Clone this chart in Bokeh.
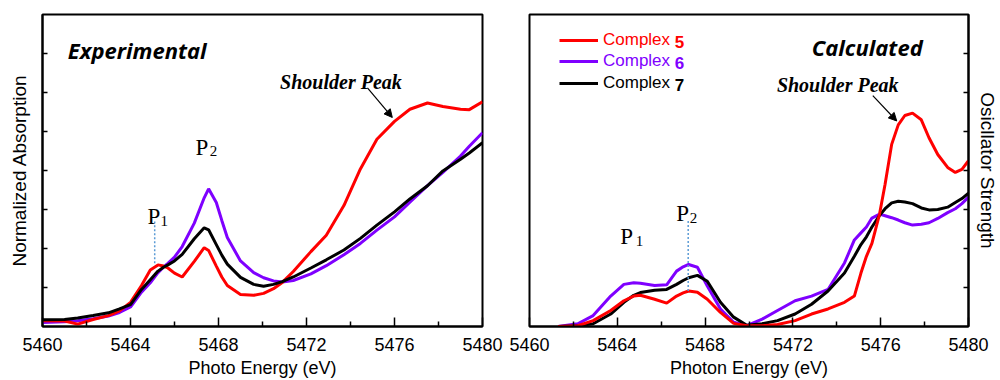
from bokeh.plotting import figure
from bokeh.models import (Range1d, FixedTicker, Label, Arrow, NormalHead,
                          Legend, LegendItem)
from bokeh.layouts import row
from bokeh.embed import file_html
from bokeh.resources import INLINE

# ---------------- data ----------------
x_major_ticks = [5460, 5464, 5468, 5472, 5476, 5480]
x_minor_ticks = [5462, 5466, 5470, 5474, 5478]
y_ticks = [1, 2, 3, 4, 5, 6, 7]

# Experimental (left panel)
exp_energy = [5460.0, 5461.0, 5461.6, 5462.3, 5463.0, 5463.5, 5464.0, 5464.5, 5464.9,
              5465.25, 5465.5, 5465.7, 5466.0, 5466.35, 5466.9, 5467.35, 5467.55, 5467.9,
              5468.15, 5468.4, 5469.0, 5469.6, 5470.05, 5470.5, 5470.9, 5471.4, 5472.2,
              5472.9, 5473.7, 5474.45, 5475.2, 5476.0, 5476.7, 5477.5, 5478.2, 5479.0,
              5479.4, 5480.0]
exp_complex5 = [0.15, 0.14, 0.06, 0.18, 0.28, 0.40, 0.62, 1.05, 1.45,
                1.58, 1.55, 1.50, 1.37, 1.27, 1.67, 2.02, 1.95, 1.55,
                1.27, 1.05, 0.82, 0.80, 0.85, 0.97, 1.13, 1.41, 1.92,
                2.34, 3.10, 4.04, 4.80, 5.26, 5.57, 5.73, 5.64, 5.57,
                5.56, 5.76]
exp_complex6 = [0.10, 0.12, 0.15, 0.20, 0.27, 0.36, 0.50, 0.88, 1.12,
                1.38, 1.52, 1.62, 1.78, 2.05, 2.65, 3.30, 3.53, 3.18,
                2.72, 2.28, 1.68, 1.38, 1.25, 1.17, 1.14, 1.18, 1.35,
                1.56, 1.84, 2.13, 2.47, 2.81, 3.19, 3.61, 3.95, 4.37,
                4.62, 4.97]
exp_complex7 = [0.17, 0.18, 0.22, 0.28, 0.35, 0.45, 0.56, 0.95, 1.20,
                1.42, 1.52, 1.58, 1.68, 1.85, 2.25, 2.53, 2.48, 2.10,
                1.83, 1.60, 1.26, 1.08, 1.03, 1.08, 1.15, 1.27, 1.50,
                1.71, 1.96, 2.26, 2.60, 2.94, 3.27, 3.61, 3.99, 4.29,
                4.45, 4.71]

# Calculated (right panel)
calc_energy = [5461.3, 5462.2, 5462.9, 5463.7, 5464.3, 5464.75, 5465.05, 5465.7, 5466.25,
               5466.7, 5467.0, 5467.25, 5467.65, 5468.1, 5468.7, 5469.3, 5469.9, 5470.6,
               5471.3, 5472.1, 5472.85, 5473.6, 5474.35, 5474.8, 5475.1, 5475.35, 5475.6,
               5475.95, 5476.2, 5476.5, 5476.8, 5477.1, 5477.45, 5477.85, 5478.2, 5478.6,
               5479.05, 5479.4, 5479.7, 5480.0]
calc_complex5 = [0.0, 0.02, 0.15, 0.41, 0.66, 0.78, 0.80, 0.70, 0.60,
                 0.78, 0.86, 0.91, 0.88, 0.70, 0.36, 0.08, 0.02, 0.02,
                 0.05, 0.15, 0.32, 0.45, 0.62, 0.78, 1.37, 1.80, 2.13,
                 2.89, 3.65, 4.67, 5.17, 5.41, 5.47, 5.30, 4.84, 4.41,
                 4.08, 3.95, 4.03, 4.25]
calc_complex6 = [0.0, 0.07, 0.28, 0.78, 1.08, 1.12, 1.11, 1.05, 1.07,
                 1.42, 1.53, 1.59, 1.52, 1.04, 0.45, 0.11, 0.02, 0.19,
                 0.41, 0.66, 0.78, 0.95, 1.63, 2.22, 2.40, 2.55, 2.78,
                 2.88, 2.84, 2.79, 2.73, 2.66, 2.60, 2.62, 2.66, 2.77,
                 2.92, 3.02, 3.15, 3.32]
calc_complex7 = [0.0, 0.02, 0.07, 0.32, 0.62, 0.80, 0.87, 0.93, 0.95,
                 1.08, 1.18, 1.25, 1.31, 1.16, 0.62, 0.24, 0.03, 0.07,
                 0.15, 0.32, 0.57, 0.91, 1.37, 1.80, 2.10, 2.30, 2.55,
                 2.85, 3.02, 3.17, 3.21, 3.19, 3.15, 3.04, 2.99, 3.00,
                 3.06, 3.18, 3.28, 3.42]

series_names = ["Complex", "Complex", "Complex"]
series_numbers = ["5", "6", "7"]
series_colors = ["#ff0000", "#7f00ff", "#000000"]

# annotation anchors (data units)
exp_p1_marker = dict(x=5465.1, y0=1.62, y1=2.69)
calc_p2_marker = dict(x=5467.23, y0=0.91, y1=2.73)

SANS = "Liberation Sans"
SERIF = "Liberation Serif"
TITLE_FONT = "Open Sans"


def make_fig(width, bl, br, yloc, xlabel, ylabel):
    p = figure(width=width, height=380, x_range=Range1d(5460, 5480), y_range=Range1d(0, 8),
               output_backend="svg", toolbar_location=None, y_axis_location=yloc,
               min_border_left=bl, min_border_right=br, min_border_top=14, min_border_bottom=50)
    p.background_fill_color = "white"
    p.border_fill_color = "white"
    p.grid.visible = False
    p.outline_line_color = "black"
    p.outline_line_width = 2
    p.outline_line_alpha = 1

    xa = p.xaxis[0]
    xa.ticker = FixedTicker(ticks=x_major_ticks, minor_ticks=x_minor_ticks)
    xa.major_tick_in = 9
    xa.major_tick_out = 0
    xa.minor_tick_in = 5
    xa.minor_tick_out = 0
    xa.major_tick_line_width = 1.5
    xa.minor_tick_line_width = 1.5
    xa.axis_line_width = 2
    xa.major_label_text_font = SANS
    xa.major_label_text_font_size = "18px"
    xa.major_label_text_color = "black"
    xa.major_label_standoff = 11
    xa.axis_label = xlabel
    xa.axis_label_text_font = SANS
    xa.axis_label_text_font_size = "18px"
    xa.axis_label_text_font_style = "normal"
    xa.axis_label_text_color = "black"
    xa.axis_label_standoff = 4

    ya = p.yaxis[0]
    ya.ticker = FixedTicker(ticks=y_ticks)
    ya.major_tick_in = 5
    ya.major_tick_out = 0
    ya.minor_tick_line_color = None
    ya.major_tick_line_width = 1.5
    ya.axis_line_width = 2
    ya.major_label_overrides = {t: "" for t in y_ticks}
    ya.major_label_standoff = 0
    ya.axis_label = ylabel
    ya.axis_label_text_font = SANS
    ya.axis_label_text_font_size = "19px"
    ya.axis_label_text_font_style = "normal"
    ya.axis_label_text_color = "black"
    return p


def add_text(p, x, y, text, font, size, style="normal", color="black"):
    p.add_layout(Label(x=x, y=y, text=text, text_font=font, text_font_size=size,
                       text_font_style=style, text_color=color,
                       text_align="left", text_baseline="alphabetic"))


# ---------------- left panel ----------------
left = make_fig(505, 42, 23, "left", "Photo Energy (eV)", "Normalized Absorption")
left.yaxis[0].axis_label_standoff = 13

left.line(exp_energy, exp_complex6, line_color=series_colors[1], line_width=3)
left.line(exp_energy, exp_complex5, line_color=series_colors[0], line_width=3)
left.line(exp_energy, exp_complex7, line_color=series_colors[2], line_width=3)

left.segment(x0=[exp_p1_marker["x"]], y0=[exp_p1_marker["y0"]],
             x1=[exp_p1_marker["x"]], y1=[exp_p1_marker["y1"]],
             line_color="#5b9bd5", line_width=1.5, line_dash="2 2")

add_text(left, 5461.15, 7.08, "Experimental", TITLE_FONT, "22px", "bold italic")
add_text(left, 5470.8, 6.27, "Shoulder Peak", SERIF, "20px", "bold italic")
left.add_layout(Arrow(end=NormalHead(size=8, fill_color="black", line_color="black"),
                      x_start=5474.77, y_start=6.12, x_end=5475.9, y_end=5.36,
                      line_color="black", line_width=1.2))
add_text(left, 5466.95, 4.59, "P", SERIF, "23px")
add_text(left, 5467.6, 4.49, "2", SERIF, "15px")
add_text(left, 5464.77, 2.82, "P", SERIF, "23px")
add_text(left, 5465.36, 2.70, "1", SERIF, "15px")

# ---------------- right panel ----------------
right = make_fig(495, 24, 31, "right", "Photon Energy (eV)", "Osicllator Strength")
right.yaxis[0].axis_label_standoff = 8

r6 = right.line(calc_energy, calc_complex6, line_color=series_colors[1], line_width=3)
r7 = right.line(calc_energy, calc_complex7, line_color=series_colors[2], line_width=3)
r5 = right.line(calc_energy, calc_complex5, line_color=series_colors[0], line_width=3)

right.segment(x0=[calc_p2_marker["x"]], y0=[calc_p2_marker["y0"]],
              x1=[calc_p2_marker["x"]], y1=[calc_p2_marker["y1"]],
              line_color="#5b9bd5", line_width=1.5, line_dash="2 2")

add_text(right, 5472.86, 7.16, "Calculated", TITLE_FONT, "22px", "bold italic")
add_text(right, 5471.27, 6.18, "Shoulder Peak", SERIF, "20px", "bold italic")
right.add_layout(Arrow(end=NormalHead(size=8, fill_color="black", line_color="black"),
                       x_start=5475.64, y_start=5.92, x_end=5476.73, y_end=5.27,
                       line_color="black", line_width=1.2))
add_text(right, 5464.14, 2.30, "P", SERIF, "23px")
add_text(right, 5464.84, 2.18, "1", SERIF, "15px")
add_text(right, 5466.68, 2.89, "P", SERIF, "23px")
add_text(right, 5467.3, 2.79, "2", SERIF, "15px")

# legend: one Legend per entry so each label keeps its own colour
legend_rows = [(r5, 276.5), (r6, 255), (r7, 233.5)]
legend_num_y = [7.29, 6.75, 6.20]
for i, (rend, ypos) in enumerate(legend_rows):
    leg = Legend(items=[LegendItem(label=series_names[i], renderers=[rend])],
                 location=(30, ypos))
    leg.background_fill_alpha = 0
    leg.border_line_alpha = 0
    leg.padding = 0
    leg.margin = 0
    leg.spacing = 0
    leg.glyph_width = 39
    leg.glyph_height = 20
    leg.label_height = 20
    leg.label_standoff = 5
    leg.label_text_font = SANS
    leg.label_text_font_size = "17px"
    leg.label_text_color = series_colors[i]
    right.add_layout(leg)
    right.add_layout(Label(x=5466.62, y=legend_num_y[i], text=series_numbers[i],
                           text_font=SANS, text_font_size="17px", text_font_style="bold",
                           text_color=series_colors[i], text_align="left",
                           text_baseline="middle"))

layout = row(left, right)
open("out.html", "w").write(file_html(layout, INLINE))
